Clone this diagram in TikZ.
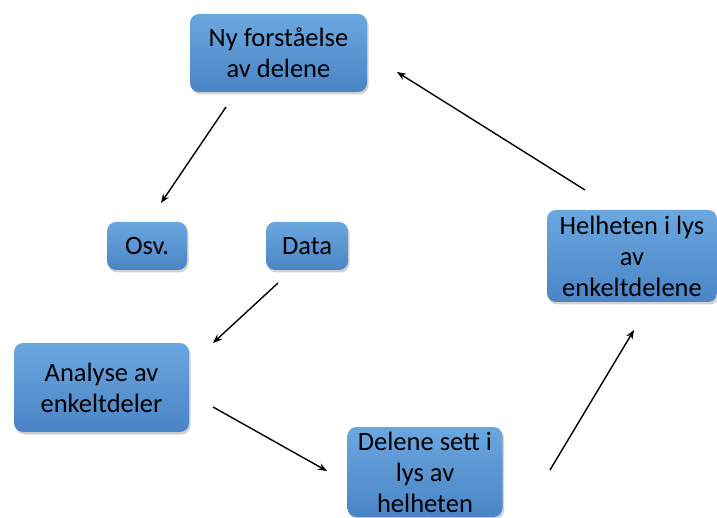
\documentclass[tikz,border=0pt]{standalone}
\usepackage{fontspec}
\setmainfont{Carlito}
\usetikzlibrary{shadows,arrows.meta}
\begin{document}
\begin{tikzpicture}[x=1pt,y=-1pt,
  boxstyle/.style={rounded corners=9pt, top color=blue1, bottom color=blue2, draw=none,
    drop shadow={opacity=0.35, shadow xshift=1.5pt, shadow yshift=-2.5pt},
    align=center, font=\fontsize{26.5}{31}\selectfont, inner sep=0pt},
  arr/.style={-{Stealth[length=9pt,width=7pt]}, line width=1.4pt, black}]
\definecolor{blue1}{HTML}{6BA7DF}
\definecolor{blue2}{HTML}{4A84C6}
\useasboundingbox (0,0) rectangle (717,518);
\fill[white] (0,0) rectangle (717,518);
\begin{scope}
\clip (0,0) rectangle (717,518);
\node[boxstyle, minimum width=177pt, minimum height=78pt] (ny) at (278.5,53) {Ny forståelse\\av delene};
\node[boxstyle, minimum width=80pt, minimum height=48pt] (osv) at (147,246) {Osv.};
\node[boxstyle, minimum width=82pt, minimum height=48pt] (data) at (307,246) {Data};
\node[boxstyle, minimum width=175pt, minimum height=89pt] (ana) at (101.5,387.5) {Analyse av\\enkeltdeler};
\node[boxstyle, minimum width=155pt, minimum height=90pt] (del) at (425,472) {Delene sett i\\lys av\\helheten};
\node[boxstyle, minimum width=170pt, minimum height=92pt] (hel) at (632,256) {Helheten i lys\\av\\enkeltdelene};
\end{scope}
\coordinate (a1) at (226,107); \coordinate (a2) at (161,203);
\coordinate (b1) at (278,283); \coordinate (b2) at (213,343);
\coordinate (c1) at (213,407); \coordinate (c2) at (327,471);
\coordinate (d1) at (550,470); \coordinate (d2) at (634,330);
\coordinate (e1) at (585,190); \coordinate (e2) at (397,72);
\draw[arr] (a1) -- (a2);
\draw[arr] (b1) -- (b2);
\draw[arr] (c1) -- (c2);
\draw[arr] (d1) -- (d2);
\draw[arr] (e1) -- (e2);
\end{tikzpicture}
\end{document}
